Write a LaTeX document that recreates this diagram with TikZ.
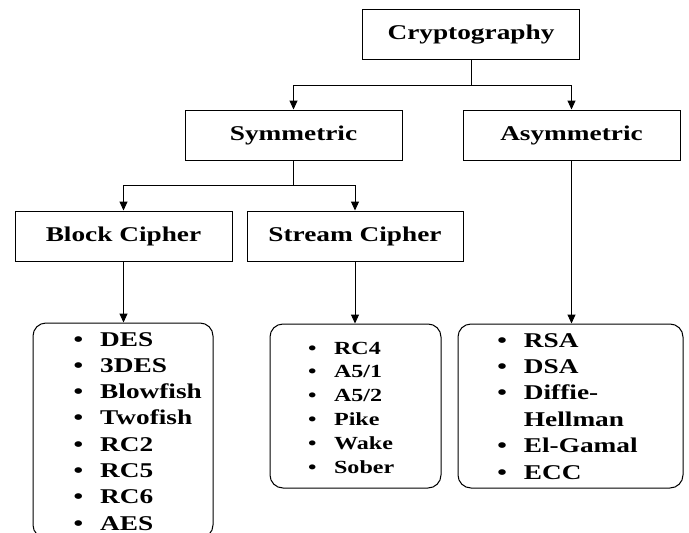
\documentclass[tikz,border=0pt]{standalone}
\usepackage{fontspec}
\setmainfont[FakeStretch=1.3]{Liberation Serif}
\usetikzlibrary{arrows.meta}

\tikzset{
  catbox/.style={draw, line width=1pt, minimum width=217pt, minimum height=50pt,
    inner sep=0pt, font=\fontsize{21}{25}\selectfont\bfseries},
  listbox/.style={draw, line width=1pt, rounded corners=13pt, inner sep=0pt},
  listtext/.style={anchor=base west, inner sep=0pt},
  link/.style={line width=1pt},
  arr/.style={link, -{Triangle[length=9pt,width=8pt]}}
}

\begin{document}
\begin{tikzpicture}[x=1pt,y=-1pt]
\useasboundingbox (0,0) rectangle (689,533);
\clip (0,0) rectangle (689,533);
% categories
\node[catbox] (crypto) at (471,34.5) {Cryptography};
\node[catbox] (sym) at (293.5,135) {Symmetric};
\node[catbox] (asym) at (571.5,135) {Asymmetric};
\node[catbox] (block) at (123.5,236) {Block Cipher};
\node[catbox, minimum width=216pt] (stream) at (355,236) {Stream Cipher};
% algorithm lists
\node[listbox, minimum width=180pt, minimum height=215pt] (blocklist) at (123,430.5) {};
\node[listbox, minimum width=171pt, minimum height=164pt] (streamlist) at (355.5,406) {};
\node[listbox, minimum width=225pt, minimum height=164pt] (asymlist) at (570.5,406) {};
\node[listtext, font=\fontsize{21}{26.3}\selectfont\bfseries] (blocktext) at (73.5,346)
  {\begin{tabular}[t]{@{}c@{\hspace{17pt}}l@{}}
   \textbullet & DES\\ \textbullet & 3DES\\ \textbullet & Blowfish\\ \textbullet & Twofish\\
   \textbullet & RC2\\ \textbullet & RC5\\ \textbullet & RC6\\ \textbullet & AES
   \end{tabular}};
\node[listtext, font=\fontsize{18.5}{23.8}\selectfont\bfseries] (streamtext) at (308,354)
  {\begin{tabular}[t]{@{}c@{\hspace{17.5pt}}l@{}}
   \textbullet & RC4\\ \textbullet & A5/1\\ \textbullet & A5/2\\
   \textbullet & Pike\\ \textbullet & Wake\\ \textbullet & Sober
   \end{tabular}};
\node[listtext, font=\fontsize{21}{26.4}\selectfont\bfseries] (asymtext) at (497.2,347)
  {\begin{tabular}[t]{@{}c@{\hspace{17pt}}l@{}}
   \textbullet & RSA\\ \textbullet & DSA\\ \textbullet & Diffie-\\ & Hellman\\
   \textbullet & El-Gamal\\ \textbullet & ECC
   \end{tabular}};
% connectors
\draw[arr] (crypto.south) -- ++(0,25) -| (sym.north);
\draw[arr] (crypto.south) -- ++(0,25) -| (asym.north);
\draw[arr] (sym.south) -- ++(0,25) -| (block.north);
\draw[arr] (sym.south) -- ++(0,25) -| (stream.north);
\draw[arr] (block.south) -- (block.south |- blocklist.north);
\draw[arr] (stream.south) -- (stream.south |- streamlist.north);
\draw[arr] (asym.south) -- (asym.south |- asymlist.north);
\end{tikzpicture}
\end{document}
